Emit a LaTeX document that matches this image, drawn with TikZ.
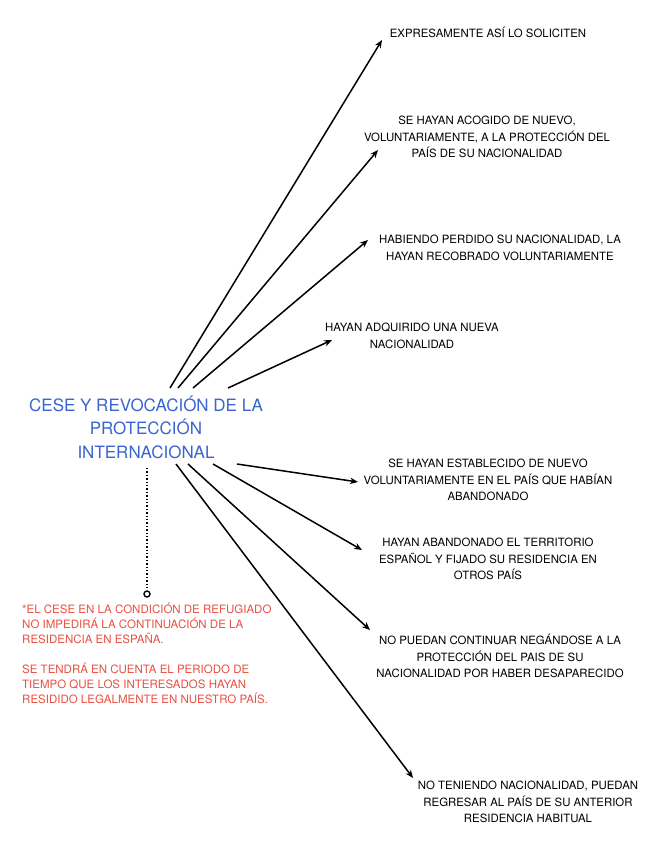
\documentclass[tikz,border=0pt]{standalone}
\usepackage{fontspec}
\setmainfont{TeX Gyre Heros}
\usetikzlibrary{arrows.meta}
\definecolor{titleblue}{RGB}{58,100,208}
\definecolor{notered}{RGB}{232,80,66}
\tikzset{
  item/.style={align=center, inner sep=0pt, font=\fontsize{11.4}{16.6}\selectfont, text=black},
  titlebox/.style={align=center, inner sep=0pt, font=\fontsize{17}{23.5}\selectfont, text=titleblue},
  notebox/.style={align=left, inner sep=0pt, font=\fontsize{11.5}{15}\selectfont, text=notered, anchor=north west},
  arr/.style={line width=1.5pt, -{Stealth[length=8pt,width=6.5pt]}},
  dots/.style={line width=1.4pt, dotted},
}
\begin{document}
\begin{tikzpicture}[x=1pt,y=-1pt]
\useasboundingbox[fill=white] (0,0) rectangle (663,848);

\node[titlebox] (title) at (146,427) {CESE Y REVOCACIÓN DE LA\\PROTECCIÓN\\INTERNACIONAL};

\node[item] (t1) at (488,32) {EXPRESAMENTE ASÍ LO SOLICITEN};
\node[item] (t2) at (487,137) {SE HAYAN ACOGIDO DE NUEVO,\\VOLUNTARIAMENTE, A LA PROTECCIÓN DEL\\PAÍS DE SU NACIONALIDAD};
\node[item] (t3) at (500,248) {HABIENDO PERDIDO SU NACIONALIDAD, LA\\HAYAN RECOBRADO VOLUNTARIAMENTE};
\node[item] (t4) at (412,336) {HAYAN ADQUIRIDO UNA NUEVA\\NACIONALIDAD};
\node[item] (t5) at (488,480) {SE HAYAN ESTABLECIDO DE NUEVO\\VOLUNTARIAMENTE EN EL PAÍS QUE HABÍAN\\ABANDONADO};
\node[item] (t6) at (488,559) {HAYAN ABANDONADO EL TERRITORIO\\ESPAÑOL Y FIJADO SU RESIDENCIA EN\\OTROS PAÍS};
\node[item] (t7) at (500,656) {NO PUEDAN CONTINUAR NEGÁNDOSE A LA\\PROTECCIÓN DEL PAIS DE SU\\NACIONALIDAD POR HABER DESAPARECIDO};
\node[item] (t8) at (528,802) {NO TENIENDO NACIONALIDAD, PUEDAN\\REGRESAR AL PAÍS DE SU ANTERIOR\\RESIDENCIA HABITUAL};

\node[notebox] (note) at (22,603) {*EL CESE EN LA CONDICIÓN DE REFUGIADO\\NO IMPEDIRÁ LA CONTINUACIÓN DE LA\\RESIDENCIA EN ESPAÑA.\\[15pt]SE TENDRÁ EN CUENTA EL PERIODO DE\\TIEMPO QUE LOS INTERESADOS HAYAN\\RESIDIDO LEGALMENTE EN NUESTRO PAÍS.};

% arrow start points (on the title) and end points (near the texts)
\coordinate (s1) at (170,388); \coordinate (e1) at (382,40);
\coordinate (s2) at (178,388); \coordinate (e2) at (378,150);
\coordinate (s3) at (193,388); \coordinate (e3) at (368,240);
\coordinate (s4) at (228,388); \coordinate (e4) at (332,340);
\coordinate (s5) at (237,464); \coordinate (e5) at (358,482);
\coordinate (s6) at (213,464); \coordinate (e6) at (362,550);
\coordinate (s7) at (188,464); \coordinate (e7) at (370,630);
\coordinate (s8) at (176,464); \coordinate (e8) at (413,778);

\foreach \i in {1,...,8} {\draw[arr] (s\i) -- (e\i);}

\coordinate (d0) at (147,468);
\node[circle, draw, line width=1.4pt, fill=white, minimum size=6pt, inner sep=0pt] (dotend) at (147,594) {};
\draw[dots] (d0) -- (dotend.north);
\end{tikzpicture}
\end{document}
